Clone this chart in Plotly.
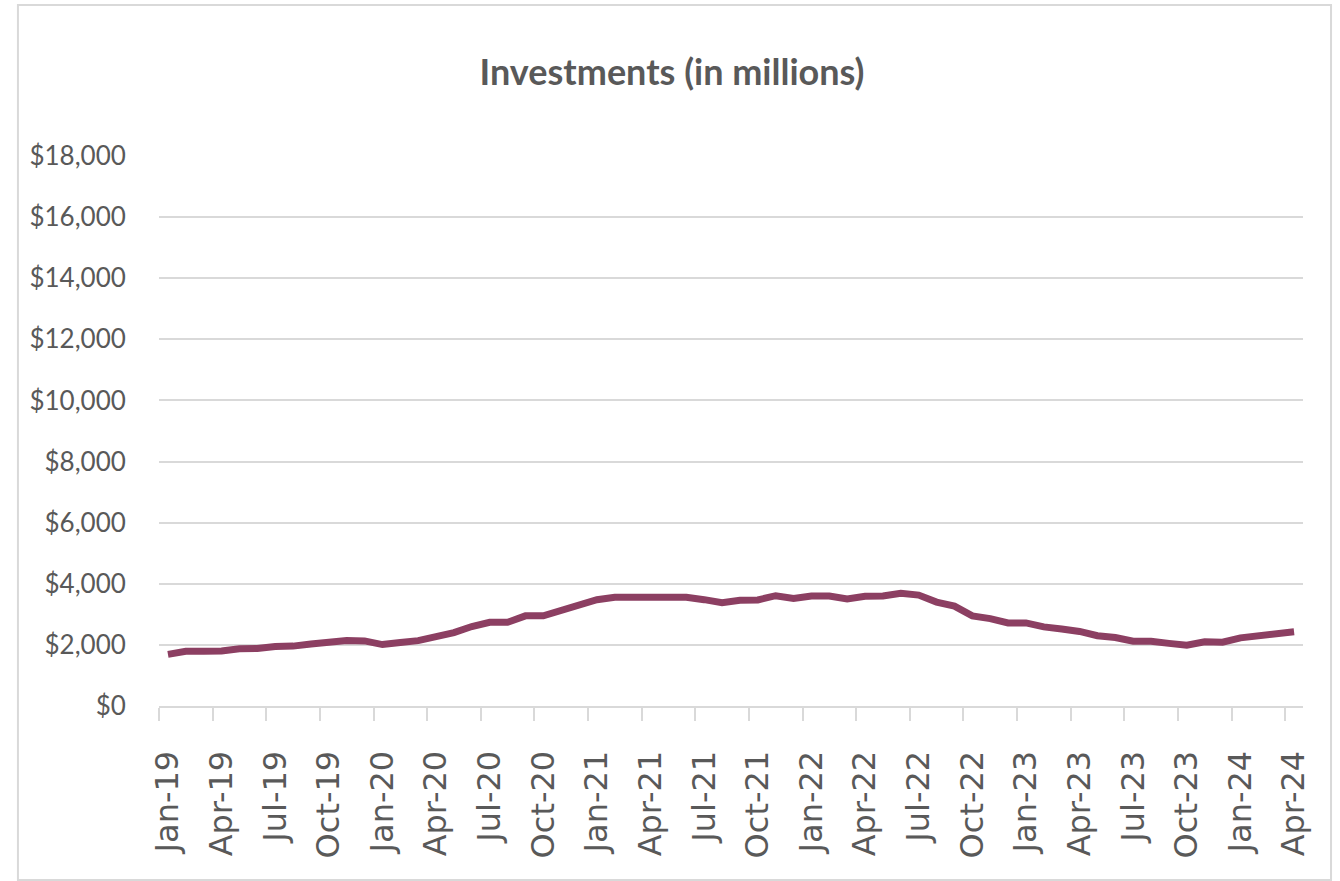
import plotly.graph_objects as go

# Monthly investment balances, Jan 2019 - Apr 2024 (in millions of USD)
years = ["19", "20", "21", "22", "23", "24"]
month_names = ["Jan", "Feb", "Mar", "Apr", "May", "Jun",
               "Jul", "Aug", "Sep", "Oct", "Nov", "Dec"]
months = [f"{m}-{y}" for y in years for m in month_names][:64]

investments = [
    1690, 1790, 1790, 1800, 1870, 1880, 1950, 1960, 2030, 2090, 2140, 2130,   # 2019
    2010, 2080, 2140, 2270, 2400, 2600, 2740, 2740, 2950, 2950, 3110, 3320,   # 2020
    3480, 3560, 3560, 3560, 3560, 3560, 3480, 3380, 3460, 3470, 3610, 3520,   # 2021
    3600, 3600, 3500, 3590, 3600, 3690, 3630, 3400, 3270, 2950, 2860, 2720,   # 2022
    2720, 2590, 2520, 2440, 2300, 2240, 2120, 2120, 2050, 1990, 2100, 2090,   # 2023
    2230, 2300, 2370, 2430,                                                   # 2024
]

# Quarterly labels on the category axis
label_idx = list(range(0, len(months), 3))
label_text = [months[i] for i in label_idx]

y_ticks = list(range(0, 18001, 2000))
y_text = [f"${v:,}" for v in y_ticks]

x_pos = list(range(len(months)))

GRID = "#d9d9d9"
TEXT = "#595959"
HUMANIST = "Lato, 'Open Sans', sans-serif"

fig = go.Figure(
    go.Scatter(
        x=x_pos,
        y=investments,
        mode="lines",
        line=dict(color="#8c3f62", width=7),
        customdata=months,
        hovertemplate="%{customdata}: $%{y:,}<extra></extra>",
    )
)

fig.update_layout(
    width=1340,
    height=881,
    margin=dict(l=159, r=37, t=156, b=175),
    paper_bgcolor="white",
    plot_bgcolor="white",
    showlegend=False,
    title=dict(
        text="<b>Investments (in millions)</b>",
        font=dict(family=HUMANIST, size=36, color=TEXT),
        x=0.5015, xref="container", xanchor="center",
        y=0.918, yref="container", yanchor="middle",
    ),
    xaxis=dict(
        range=[-0.5, len(months) - 0.5],
        tickmode="array",
        tickvals=label_idx,
        ticktext=label_text,
        tickangle=-90,
        ticks="outside",
        ticklen=30,
        tickcolor="rgba(0,0,0,0)",
        tickfont=dict(family="DejaVu Sans, Verdana, sans-serif", size=32, color=TEXT),
        showgrid=False,
        zeroline=False,
        showline=True,
        linecolor=GRID,
        linewidth=2,
        minor=dict(
            tickmode="linear",
            tick0=-0.5,
            dtick=3,
            ticks="outside",
            ticklen=13,
            tickwidth=2,
            tickcolor=GRID,
            showgrid=False,
        ),
    ),
    yaxis=dict(
        range=[0, 18000],
        tickmode="array",
        tickvals=y_ticks,
        ticktext=y_text,
        ticks="outside",
        ticklen=27,
        tickcolor="rgba(0,0,0,0)",
        tickfont=dict(family=HUMANIST, size=26, color=TEXT),
        showgrid=True,
        gridcolor=GRID,
        gridwidth=2,
        zeroline=False,
        showline=False,
    ),
    shapes=[
        # outer chart frame
        dict(
            type="rect", xref="paper", yref="paper",
            x0=-0.1233, x1=1.0245, y0=-0.3164, y1=1.2745,
            line=dict(color=GRID, width=2),
            fillcolor="rgba(0,0,0,0)",
            layer="below",
        )
    ],
)

fig.write_html("out.html")
